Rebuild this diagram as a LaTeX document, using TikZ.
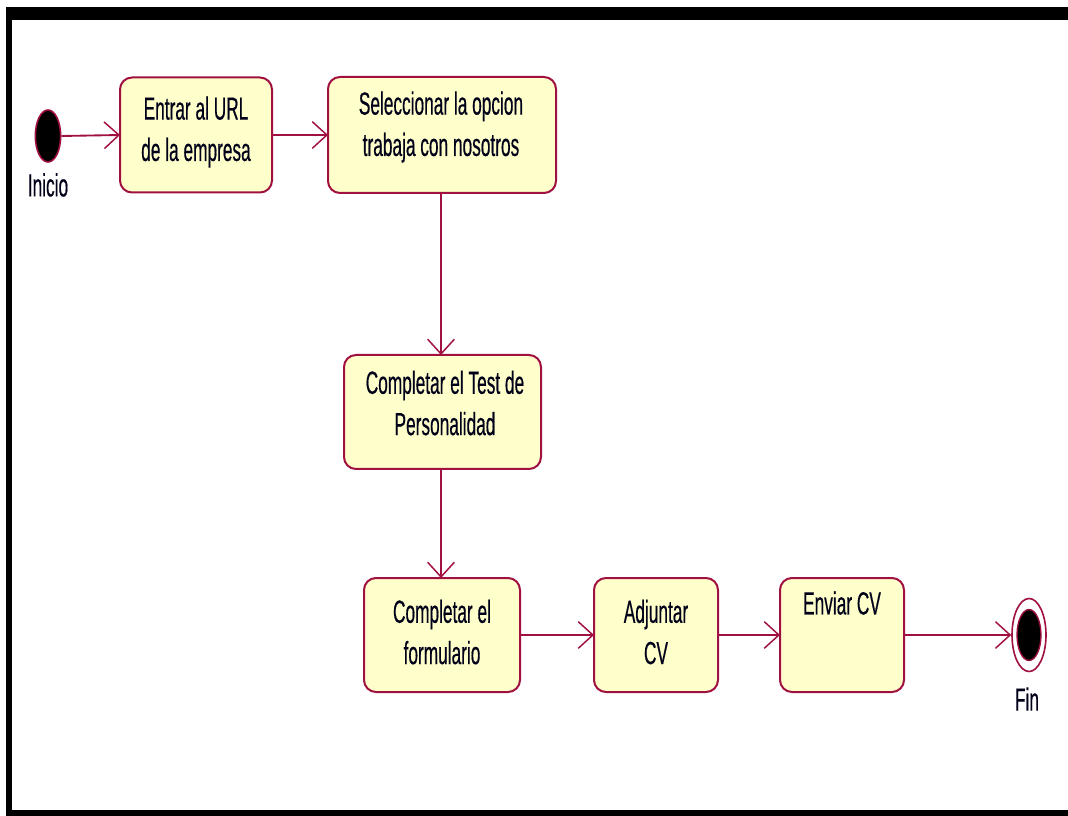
\documentclass[tikz,border=0pt]{standalone}
\usepackage{fontspec}
\setmainfont{Liberation Sans}[FakeStretch=0.54,FakeBold=0.4]
\usetikzlibrary{shapes.geometric,arrows.meta,calc}
\definecolor{umlred}{RGB}{160,16,64}
\definecolor{umlfill}{RGB}{255,255,204}
\begin{document}
\begin{tikzpicture}[x=0.75pt,y=-0.75pt,
  act/.style={draw=umlred,fill=umlfill,line width=1.5pt,rounded corners=9pt,
              inner sep=0pt,outer sep=0pt},
  txt/.style={align=center,font=\fontsize{24}{31}\selectfont,inner sep=0pt,
              text=black!90!blue},
  flow/.style={draw=umlred,line width=1.4pt,-{Straight Barb[length=11pt,width=20pt,line width=1.1pt]}},
  startdot/.style={ellipse,draw=umlred,fill=black,line width=1.2pt,inner sep=0pt,
                   minimum width=19pt,minimum height=39pt},
  endring/.style={ellipse,draw=umlred,fill=white,line width=1.2pt,inner sep=0pt,
                  minimum width=25.5pt,minimum height=54.75pt},
  enddot/.style={ellipse,draw=umlred,fill=black,line width=1pt,inner sep=0pt,
                 minimum width=18pt,minimum height=38.25pt}]
\useasboundingbox (0,0) rectangle (1068,816);
% frame
\fill[black] (6,7) rectangle (1068,816);
\fill[white] (12,20) rectangle (1068,810);

% start
\node[startdot] (ini) at (48,136) {};
\node[txt] (inil) at (48,185) {Inicio};

% activities
\node[act,minimum width=114pt,minimum height=86.25pt] (b1) at (196,135) {};
\node[txt] (b1t) at (196,132) {Entrar al URL\\de la empresa};

\node[act,minimum width=171pt,minimum height=87pt] (b2) at (442,135) {};
\node[txt] (b2t) at (441,127) {Seleccionar la opcion\\trabaja con nosotros};

\node[act,minimum width=147.75pt,minimum height=85.5pt] (b3) at (442.5,412) {};
\node[txt] (b3t) at (445,403) {Completar el Test de\\Personalidad};

\node[act,minimum width=117pt,minimum height=85.5pt] (b4) at (442,635) {};
\node[txt] (b4t) at (442,632) {Completar el\\formulario};

\node[act,minimum width=93pt,minimum height=85.5pt] (b5) at (656,635) {};
\node[txt] (b5t) at (656,632) {Adjuntar\\CV};

\node[act,minimum width=93pt,minimum height=85.5pt] (b6) at (842,635) {};
\node[txt] (b6t) at (842,603) {Enviar CV};

% end
\node[endring] (fin) at (1029,635) {};
\node[enddot] (findot) at (1029,635) {};
\node[txt] (finl) at (1027,699) {Fin};

% flows
\draw[flow] (ini.east) -- (b1.west);
\draw[flow] (b1.east) -- (b2.west);
\draw[flow] (b2.south -| 441,0) -- (b3.north -| 441,0);
\draw[flow] (b3.south -| 441,0) -- (b4.north -| 441,0);
\draw[flow] (b4.east) -- (b5.west);
\draw[flow] (b5.east) -- (b6.west);
\draw[flow] (b6.east) -- (fin.west);
\end{tikzpicture}
\end{document}
